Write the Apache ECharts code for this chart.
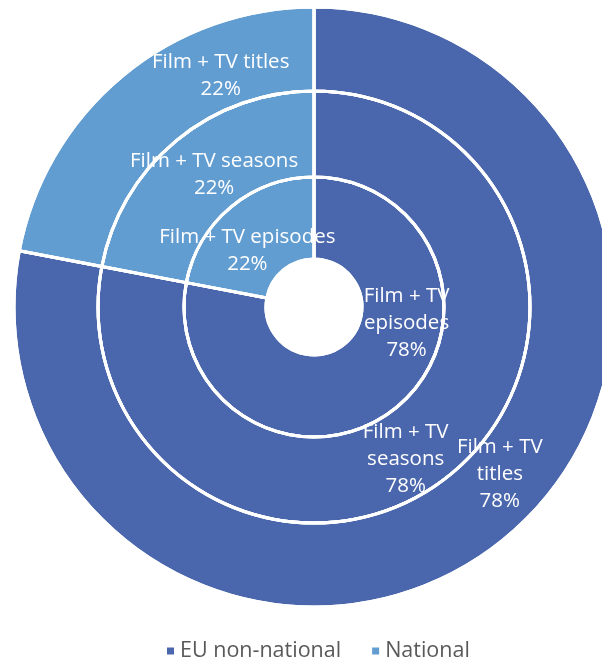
<!DOCTYPE html>
<html>
<head>
<meta charset="utf-8">
<script src="https://cdn.jsdelivr.net/npm/echarts@6/dist/echarts.min.js"></script>
<style>
  html, body { margin: 0; padding: 0; background: #ffffff; }
  #chart { width: 602px; height: 658px; }
</style>
</head>
<body>
<div id="chart"></div>
<script>
// Origin categories shown in every ring
const categories = ['EU non-national', 'National'];

// Rings from inside out
const ringNames = ['Film + TV episodes', 'Film + TV seasons', 'Film + TV titles'];

// Share (%) per ring, in category order
const episodesShare = [78, 22];
const seasonsShare = [78, 22];
const titlesShare = [78, 22];

const ringValues = [episodesShare, seasonsShare, titlesShare];

// Layout
const CENTER = [314, 307];
const RING_RADII = [[48, 130], [130, 216], [216, 300]];
const COLORS = ['#4A66AC', '#629DD1'];
// Label placement per ring: [angle clockwise from 12 o'clock (deg), distance from centre (px)] per slice
const LABEL_POLAR = [
  [[100, 94], [-50, 87]],
  [[149, 178], [-37, 166]],
  [[132, 250], [-22, 249]]
];
const FONT = '"Open Sans", "Noto Sans", sans-serif';

function labelText(ringIdx, dataIdx, percent) {
  const name = ringNames[ringIdx];
  const pct = Math.round(percent) + '%';
  if (dataIdx === 0) {
    // larger slice: wrap after "Film + TV"
    return name.replace('Film + TV ', 'Film + TV\n') + '\n' + pct;
  }
  return name + '\n' + pct;
}

const series = [];
ringValues.forEach((vals, r) => {
  const data = categories.map((c, i) => ({
    name: c,
    value: vals[i],
    itemStyle: { color: COLORS[i] }
  }));
  series.push({
    name: ringNames[r],
    type: 'pie',
    center: CENTER,
    radius: RING_RADII[r],
    startAngle: 90,
    clockwise: true,
    z: 2,
    avoidLabelOverlap: false,
    emphasis: { disabled: true },
    itemStyle: { borderColor: '#ffffff', borderWidth: 3 },
    label: {
      show: true,
      position: 'inside',
      color: '#ffffff',
      fontFamily: FONT,
      fontSize: 20.5,
      lineHeight: 27,
      align: 'center',
      verticalAlign: 'middle',
      formatter: p => labelText(r, p.dataIndex, p.percent)
    },
    labelLine: { show: false },
    labelLayout: p => {
      const [deg, dist] = LABEL_POLAR[r][p.dataIndex];
      const a = deg * Math.PI / 180;
      return {
        x: CENTER[0] + dist * Math.sin(a),
        y: CENTER[1] - dist * Math.cos(a),
        align: 'center',
        verticalAlign: 'middle'
      };
    },
    data: data
  });
});

// White separators drawn above the labels
ringValues.forEach((vals, r) => {
  series.push({
    name: ringNames[r] + ' outline',
    type: 'pie',
    center: CENTER,
    radius: RING_RADII[r],
    startAngle: 90,
    clockwise: true,
    z: 10,
    silent: true,
    emphasis: { disabled: true },
    itemStyle: { color: 'rgba(0,0,0,0)', borderColor: '#ffffff', borderWidth: 3 },
    label: { show: false },
    labelLine: { show: false },
    data: categories.map((c, i) => ({ name: c, value: vals[i] }))
  });
});

const chart = echarts.init(document.getElementById('chart'), null, { renderer: 'canvas' });
chart.setOption({
  animation: false,
  backgroundColor: '#ffffff',
  color: COLORS,
  legend: {
    data: categories,
    top: 635,
    left: 160,
    icon: 'rect',
    itemWidth: 9,
    itemHeight: 9,
    itemGap: 29,
    selectedMode: false,
    textStyle: { color: '#595959', fontSize: 21.5, fontFamily: FONT }
  },
  series: series
});
</script>
</body>
</html>
